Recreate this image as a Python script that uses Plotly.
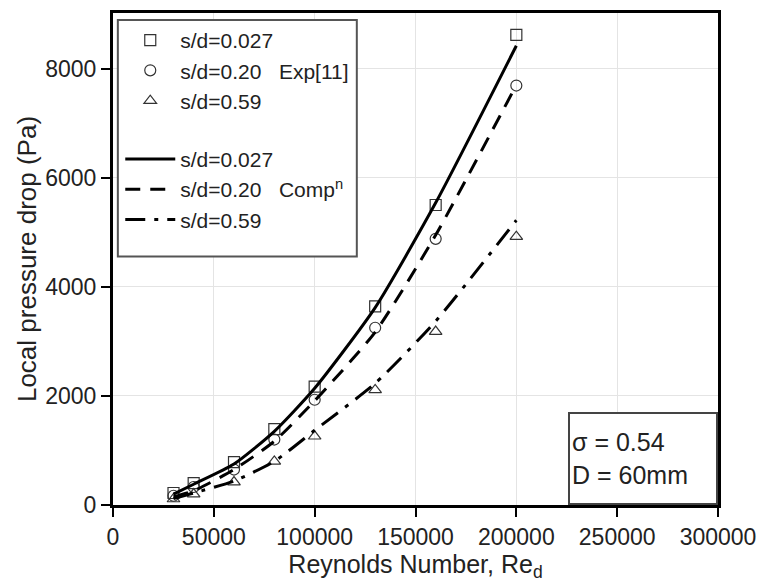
import plotly.graph_objects as go

# Reynolds numbers of the measured / computed cases
re_d = [30000, 40000, 60000, 80000, 100000, 130000, 160000, 200000]

# Experimental local pressure drop (Pa), Exp[11]
exp_sd0027 = [220, 400, 785, 1390, 2170, 3640, 5500, 8620]
exp_sd020 = [170, 330, 650, 1200, 1930, 3250, 4880, 7690]
exp_sd059 = [110, 200, 420, 800, 1260, 2110, 3180, 4920]

# Computed local pressure drop (Pa)
comp_sd0027 = [200, 380, 750, 1350, 2140, 3620, 5540, 8420]
comp_sd020 = [150, 260, 650, 1170, 1910, 3170, 4950, 7700]
comp_sd059 = [120, 220, 440, 800, 1370, 2230, 3370, 5220]

x_ticks = [0, 50000, 100000, 150000, 200000, 250000, 300000]
y_ticks = [0, 2000, 4000, 6000, 8000]

FONT = "Liberation Sans, Arial, sans-serif"
NB = "\u00a0"

fig = go.Figure()

exp_series = [
    ("s/d=0.027", exp_sd0027, "square-open"),
    ("s/d=0.20" + NB * 3 + "Exp[11]", exp_sd020, "circle-open"),
    ("s/d=0.59", exp_sd059, "triangle-up-open"),
]
for name, ys, sym in exp_series:
    fig.add_trace(go.Scatter(
        x=re_d, y=ys, mode="markers", name=name,
        legendgroup="exp",
        marker=dict(symbol=sym, size=11, color="#333333",
                    line=dict(width=1.2, color="#333333")),
    ))

comp_series = [
    ("s/d=0.027", comp_sd0027, "solid"),
    ("s/d=0.20" + NB * 3 + "Comp<sup>n</sup>", comp_sd020, "15px,10px"),
    ("s/d=0.59", comp_sd059, "20px,9px,4px,9px"),
]
for name, ys, dash in comp_series:
    fig.add_trace(go.Scatter(
        x=re_d, y=ys, mode="lines", name=name,
        legendgroup="comp",
        line=dict(color="black", width=3, dash=dash, shape="spline",
                  smoothing=0.6),
    ))

# Frame around the legend (drawn as a shape so it can be taller than the items)
fig.add_shape(
    type="rect", xref="paper", yref="paper",
    x0=0.008, x1=0.403, y0=0.505, y1=0.986,
    line=dict(color="#555555", width=2), fillcolor="white", layer="above",
)

fig.add_annotation(
    xref="paper", yref="paper", x=1, y=0, xanchor="right", yanchor="bottom",
    text="σ = 0.54<br>D = 60mm", showarrow=False, align="left",
    width=142, height=85, valign="middle",
    font=dict(family=FONT, size=25, color="#222222"),
    bordercolor="#444444", borderwidth=2, borderpad=2, bgcolor="white",
)

axis_common = dict(
    showline=True, linecolor="black", linewidth=3, mirror=True,
    ticks="outside", ticklen=9, tickwidth=2, tickcolor="black",
    showgrid=True, gridcolor="#e4e4e4", gridwidth=1, zeroline=False,
    tickfont=dict(family=FONT, size=23, color="#222222"),
)

fig.update_layout(
    width=766, height=582,
    margin=dict(l=113, r=45, t=10, b=77),
    paper_bgcolor="white", plot_bgcolor="white",
    font=dict(family=FONT, color="#222222"),
    xaxis=dict(
        range=[0, 300000], tickvals=x_ticks,
        ticktext=[str(v) for v in x_ticks],
        title=dict(text="Reynolds Number, Re<sub>d</sub>",
                   font=dict(family=FONT, size=25, color="#222222"),
                   standoff=0),
        **axis_common,
    ),
    yaxis=dict(
        range=[0, 9020], tickvals=y_ticks,
        ticktext=[str(v) for v in y_ticks],
        title=dict(text="Local pressure drop (Pa)",
                   font=dict(family=FONT, size=26, color="#222222"),
                   standoff=2),
        **axis_common,
    ),
    legend=dict(
        x=0.012, y=0.986, xanchor="left", yanchor="top",
        bgcolor="rgba(0,0,0,0)", borderwidth=0,
        font=dict(family=FONT, size=21, color="#222222"),
        traceorder="grouped", tracegroupgap=28, itemwidth=50,
    ),
    showlegend=True,
)

fig.write_html("out.html")
